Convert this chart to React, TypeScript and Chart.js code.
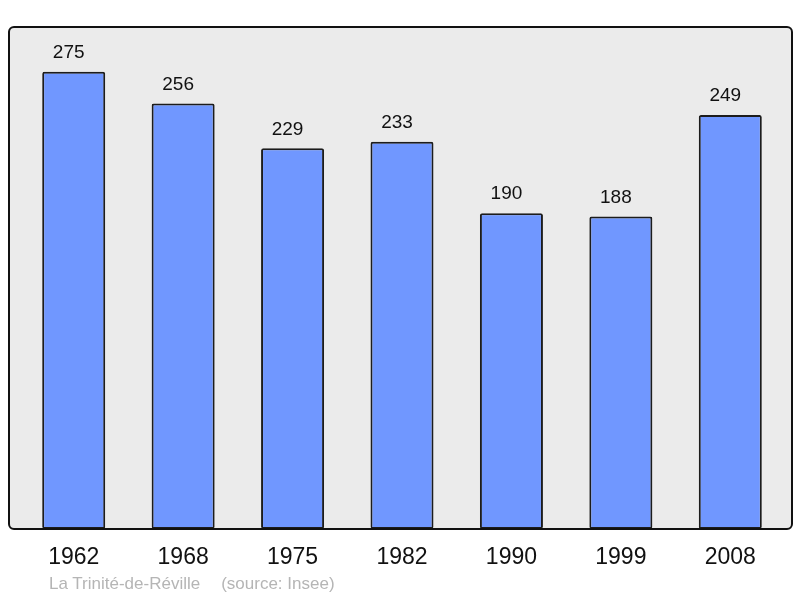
import { useEffect, useRef } from "react";
import { Chart, registerables, Plugin } from "chart.js";

Chart.register(...registerables);

//  Data

const YEARS = ["1962", "1968", "1975", "1982", "1990", "1999", "2008"];
const POPULATION = [275, 256, 229, 233, 190, 188, 249];
const FOOTER_PLACE = "La Trinité-de-Réville";
const FOOTER_SOURCE = "(source: Insee)";

//  Styling

const FONT = "'Liberation Sans', Arial, sans-serif";
const BAR_FILL = "#7097ff";
const BAR_EDGE = "#1c1c1c";
const PANEL_BG = "#ebebeb";

// grey rounded panel behind the plot, a little wider than the category band
function panelPath(chart: Chart) {
  const { ctx, chartArea } = chart;
  const x = chartArea.left - 10;
  const y = chartArea.top;
  const w = chartArea.right + 7 - x;
  const h = chartArea.bottom - y;
  ctx.beginPath();
  ctx.roundRect(x, y, w, h, 5);
}

const panelPlugin: Plugin<"bar"> = {
  id: "panel",
  beforeDraw(chart) {
    const { ctx } = chart;
    ctx.save();
    panelPath(chart as Chart);
    ctx.fillStyle = PANEL_BG;
    ctx.fill();
    ctx.restore();
  },
  afterDraw(chart) {
    const { ctx } = chart;
    ctx.save();
    panelPath(chart as Chart);
    ctx.lineWidth = 2;
    ctx.strokeStyle = "#111";
    ctx.stroke();
    ctx.restore();
  },
};

// numbers above each bar
const valueLabels: Plugin<"bar"> = {
  id: "valueLabels",
  afterDatasetsDraw(chart) {
    const { ctx } = chart;
    const meta = chart.getDatasetMeta(0);
    ctx.save();
    ctx.font = `19px ${FONT}`;
    ctx.fillStyle = "#111";
    ctx.textAlign = "center";
    ctx.textBaseline = "middle";
    meta.data.forEach((bar, i) => {
      ctx.fillText(String(POPULATION[i]), bar.x - 5, bar.y - 19);
    });
    ctx.restore();
  },
};

export default function App() {
  const canvasRef = useRef<HTMLCanvasElement>(null);

  useEffect(() => {
    if (!canvasRef.current) return;
    const chart = new Chart(canvasRef.current, {
      type: "bar",
      data: {
        labels: YEARS,
        datasets: [
          {
            data: POPULATION,
            backgroundColor: BAR_FILL,
            borderColor: BAR_EDGE,
            borderWidth: 2,
            borderRadius: 2,
            borderSkipped: false,
            barPercentage: 0.576,
            categoryPercentage: 1,
          },
        ],
      },
      options: {
        responsive: false,
        animation: false,
        layout: { padding: { left: 19, right: 15, top: 27, bottom: 11.5 } },
        plugins: {
          legend: { display: false },
          tooltip: { enabled: false },
        },
        scales: {
          x: {
            grid: { display: false, drawTicks: false },
            border: { display: false },
            ticks: {
              color: "#111",
              padding: 15,
              font: { family: FONT, size: 23 },
            },
          },
          y: {
            display: false,
            min: 0,
            max: 302,
          },
        },
      },
      plugins: [panelPlugin, valueLabels],
    });
    return () => chart.destroy();
  }, []);

  return (
    <div
      style={{
        position: "fixed",
        left: 0,
        top: 0,
        width: 800,
        height: 598,
        background: "#fff",
      }}
    >
      <canvas ref={canvasRef} width={800} height={598} />
      <div
        style={{
          position: "absolute",
          left: 49,
          top: 574,
          fontFamily: FONT,
          fontSize: 17,
          lineHeight: "20px",
          color: "#b5b5b5",
          whiteSpace: "pre",
        }}
      >
        <span>{FOOTER_PLACE}</span>
        <span style={{ marginLeft: 21 }}>{FOOTER_SOURCE}</span>
      </div>
    </div>
  );
}
